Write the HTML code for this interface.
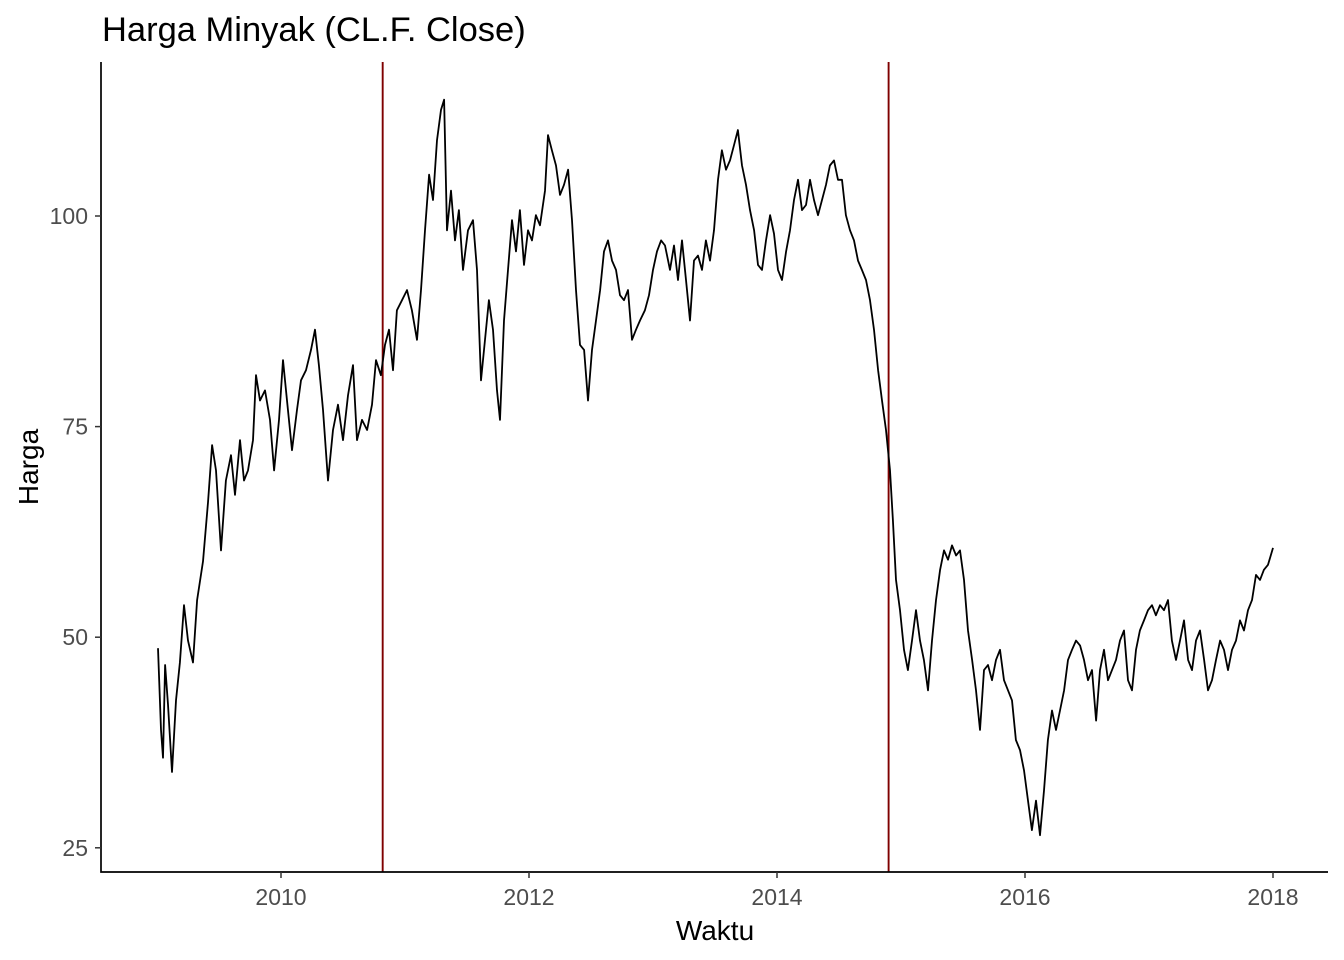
<!DOCTYPE html>
<html><head><meta charset="utf-8"><style>
html,body{margin:0;padding:0;background:#fff;}
svg{display:block;font-family:"Liberation Sans",Arial,sans-serif;}
</style></head><body>
<svg id="chart" width="1344" height="960"></svg>
<script>
const years=[2009.008,2009.032,2009.048,2009.065,2009.089,2009.121,2009.153,2009.185,2009.218,2009.25,2009.29,2009.323,2009.371,2009.411,2009.444,2009.476,2009.516,2009.556,2009.597,2009.629,2009.669,2009.702,2009.734,2009.774,2009.798,2009.831,2009.871,2009.911,2009.944,2009.984,2010.016,2010.048,2010.089,2010.129,2010.161,2010.202,2010.242,2010.274,2010.306,2010.339,2010.379,2010.419,2010.46,2010.5,2010.54,2010.581,2010.613,2010.653,2010.694,2010.734,2010.766,2010.806,2010.839,2010.871,2010.903,2010.935,2010.976,2011.016,2011.056,2011.097,2011.129,2011.161,2011.194,2011.226,2011.258,2011.29,2011.315,2011.339,2011.371,2011.403,2011.435,2011.468,2011.508,2011.548,2011.581,2011.613,2011.645,2011.677,2011.71,2011.742,2011.766,2011.798,2011.831,2011.863,2011.895,2011.927,2011.96,2011.992,2012.024,2012.056,2012.089,2012.129,2012.153,2012.185,2012.218,2012.25,2012.282,2012.315,2012.347,2012.379,2012.411,2012.444,2012.476,2012.508,2012.54,2012.573,2012.605,2012.637,2012.669,2012.702,2012.734,2012.766,2012.798,2012.831,2012.863,2012.895,2012.935,2012.968,2013.0,2013.032,2013.065,2013.097,2013.137,2013.169,2013.202,2013.234,2013.266,2013.298,2013.331,2013.363,2013.395,2013.427,2013.46,2013.492,2013.524,2013.556,2013.589,2013.621,2013.653,2013.685,2013.718,2013.75,2013.782,2013.815,2013.847,2013.879,2013.911,2013.944,2013.976,2014.008,2014.04,2014.073,2014.105,2014.137,2014.169,2014.202,2014.234,2014.266,2014.298,2014.331,2014.363,2014.395,2014.427,2014.46,2014.492,2014.524,2014.556,2014.589,2014.621,2014.653,2014.685,2014.718,2014.75,2014.782,2014.815,2014.847,2014.879,2014.911,2014.935,2014.96,2014.992,2015.024,2015.056,2015.089,2015.121,2015.153,2015.185,2015.218,2015.25,2015.282,2015.315,2015.347,2015.379,2015.411,2015.444,2015.476,2015.508,2015.54,2015.573,2015.605,2015.637,2015.669,2015.702,2015.734,2015.766,2015.798,2015.831,2015.863,2015.895,2015.927,2015.96,2015.992,2016.024,2016.056,2016.089,2016.121,2016.153,2016.185,2016.218,2016.25,2016.282,2016.315,2016.347,2016.379,2016.411,2016.444,2016.476,2016.508,2016.54,2016.573,2016.605,2016.637,2016.669,2016.702,2016.734,2016.766,2016.798,2016.831,2016.863,2016.895,2016.927,2016.96,2016.992,2017.024,2017.056,2017.089,2017.121,2017.153,2017.185,2017.218,2017.25,2017.282,2017.315,2017.347,2017.379,2017.411,2017.444,2017.476,2017.508,2017.54,2017.573,2017.605,2017.637,2017.669,2017.702,2017.734,2017.766,2017.798,2017.831,2017.863,2017.895,2017.927,2017.96,2018.0];
const prices=[48.7,39,35.7,46.7,42,34,42.5,47,53.8,49.6,47,54.4,59,66,72.8,69.8,60.3,68.6,71.6,66.9,73.4,68.6,69.8,73.4,81.1,78.1,79.3,75.8,69.8,75.8,82.9,78.1,72.2,77,80.5,81.7,84.1,86.5,82.3,77,68.6,74.6,77.6,73.4,78.7,82.3,73.4,75.8,74.6,77.6,82.9,81.1,84.7,86.5,81.7,88.8,90,91.2,88.8,85.3,91.2,98.3,104.9,101.9,109,112.6,113.8,98.3,103,97.1,100.7,93.6,98.3,99.5,93.6,80.5,85.3,90,86.5,79.3,75.8,87.6,93.6,99.5,95.8,100.7,94.2,98.3,97.1,100.1,98.9,103,109.6,107.8,106,102.5,103.7,105.5,99.5,91.2,84.7,84.1,78.1,84.1,87.6,91.2,95.8,97.1,94.7,93.6,90.6,90,91.2,85.3,86.5,87.6,88.8,90.6,93.6,95.8,97.1,96.5,93.6,96.5,92.4,97.1,92.4,87.6,94.7,95.3,93.6,97.1,94.7,98.3,104.3,107.8,105.5,106.6,108.4,110.2,106,103.7,100.7,98.3,94.2,93.6,97.1,100.1,97.9,93.6,92.4,95.8,98.3,101.9,104.3,100.7,101.3,104.3,101.9,100.1,101.9,103.7,106,106.6,104.3,104.3,100.1,98.3,97.1,94.7,93.6,92.4,90,86.5,81.7,78.1,74.6,69.8,63.9,56.8,53.2,48.5,46.1,49.6,53.2,49.6,47.3,43.7,49.6,54.4,58,60.3,59.2,60.9,59.7,60.3,56.8,50.8,47.3,43.7,39,46.1,46.7,44.9,47.3,48.5,44.9,43.7,42.5,37.8,36.6,34.2,30.6,27.1,30.6,26.5,31.8,37.8,41.3,39,41.3,43.7,47.3,48.5,49.6,49,47.3,44.9,46.1,40.1,46.1,48.5,44.9,46.1,47.3,49.6,50.8,44.9,43.7,48.5,50.8,52,53.2,53.8,52.6,53.8,53.2,54.4,49.6,47.3,49.6,52,47.3,46.1,49.6,50.8,47.3,43.7,44.9,47.3,49.6,48.5,46.1,48.5,49.6,52,50.8,53.2,54.4,57.4,56.8,58,58.6,60.6];
const xTicks=[2010,2012,2014,2016,2018];
const yTicks=[25,50,75,100];
const vlines=[2010.82,2014.9];

const X=v=>281+(v-2010)*124;
const Y=v=>216-(v-100)*8.424;
const NS='http://www.w3.org/2000/svg';
const svg=document.getElementById('chart');
function mk(t,a){const e=document.createElementNS(NS,t);for(const k in a)e.setAttribute(k,a[k]);svg.appendChild(e);return e;}

let t=mk('text',{x:102,y:41,'font-size':34.5,fill:'#000'});t.textContent='Harga Minyak (CL.F. Close)';



vlines.forEach(v=>{const l=mk('line',{x1:X(v),x2:X(v),y1:62,y2:872,stroke:'#7f0000','stroke-width':1.9});

});

let d='';years.forEach((y,i)=>{d+=(i?'L':'M')+X(y).toFixed(1)+','+Y(prices[i]).toFixed(1);});
const p=mk('path',{d:d,fill:'none',stroke:'#000','stroke-width':1.8,'stroke-linejoin':'round'});



const ax=mk('path',{d:'M101,62V872H1328',fill:'none',stroke:'#000','stroke-width':1.7});



xTicks.forEach(v=>{mk('line',{x1:X(v),x2:X(v),y1:872,y2:878,stroke:'#333','stroke-width':1.5});
const tx=mk('text',{x:X(v),y:905,'font-size':23,fill:'#4d4d4d','text-anchor':'middle'});tx.textContent=v;

});
yTicks.forEach(v=>{mk('line',{x1:95,x2:101,y1:Y(v),y2:Y(v),stroke:'#333','stroke-width':1.5});
const ty=mk('text',{x:88,y:Y(v)+8,'font-size':23,fill:'#4d4d4d','text-anchor':'end'});ty.textContent=v;

});

const xt=mk('text',{x:715,y:940,'font-size':28,fill:'#000','text-anchor':'middle'});xt.textContent='Waktu';


const yt=mk('text',{x:0,y:0,'font-size':28,fill:'#000','text-anchor':'middle',transform:'translate(38,467) rotate(-90)'});yt.textContent='Harga';


</script>
</body></html>
